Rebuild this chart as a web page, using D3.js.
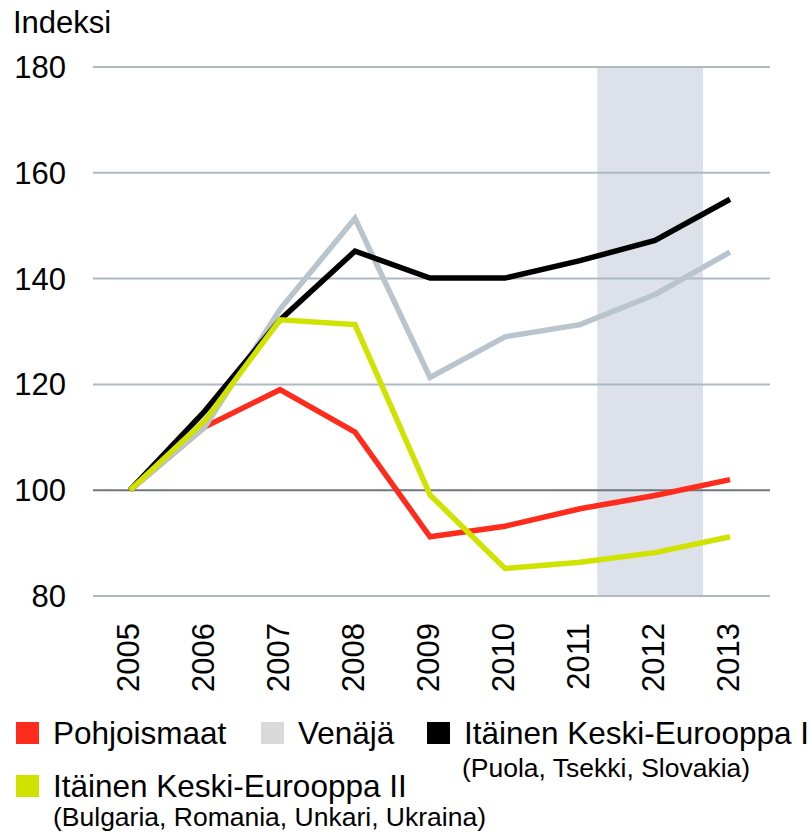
<!DOCTYPE html>
<html lang="fi">
<head>
<meta charset="UTF-8">
<title>Indeksi</title>
<script src="https://d3js.org/d3.v7.min.js"></script>
<style>
  body { margin: 0; background: #fff; }
  svg text { font-family: "Liberation Sans", Arial, sans-serif; fill: #000; }
</style>
</head>
<body>
<div id="chart"></div>
<script>
const years = [2005, 2006, 2007, 2008, 2009, 2010, 2011, 2012, 2013];
const yTicks = [80, 100, 120, 140, 160, 180];

const pohjoismaat = [100, 112, 119, 111, 91.2, 93.2, 96.5, 99, 102];
const venaja      = [100, 112, 134.2, 151.4, 121.3, 129, 131.3, 137, 145];
const ikeI        = [100, 115, 132.2, 145.2, 140.1, 140.1, 143.4, 147.2, 155];
const ikeII       = [100, 113.2, 132.2, 131.3, 99.1, 85.2, 86.4, 88.2, 91.2];

// shaded period, in year units
const shade = [2011.23, 2012.64];

const series = [
  { name: "Pohjoismaat", values: pohjoismaat, color: "#ff2b1c", swatch: "#ff2b1c" },
  { name: "Venäjä", values: venaja, color: "#b9c4cc", swatch: "#d9d9d9" },
  { name: "Itäinen Keski-Eurooppa I", values: ikeI, color: "#000000", swatch: "#000000" },
  { name: "Itäinen Keski-Eurooppa II", values: ikeII, color: "#cfe200", swatch: "#cfe200" }
];

const width = 810, height = 833;
const svg = d3.select("#chart").append("svg")
  .attr("width", width).attr("height", height);

const x = d3.scaleLinear().domain([2005, 2013]).range([130, 730]);
const y = d3.scaleLinear().domain([80, 180]).range([596, 67]);
const gridLeft = 93, gridRight = 770;

// shaded band
svg.append("rect")
  .attr("x", x(shade[0]))
  .attr("y", y(180))
  .attr("width", x(shade[1]) - x(shade[0]))
  .attr("height", y(80) - y(180))
  .attr("fill", "#dde2ea");

// gridlines
svg.selectAll(".grid").data(yTicks).enter().append("line")
  .attr("x1", gridLeft).attr("x2", gridRight)
  .attr("y1", d => y(d)).attr("y2", d => y(d))
  .attr("stroke", d => d === 100 ? "#6d767e" : "#aeb9c4")
  .attr("stroke-width", 2);

// y tick labels
svg.selectAll(".ylab").data(yTicks).enter().append("text")
  .attr("x", 66).attr("y", d => y(d) + 11)
  .attr("text-anchor", "end")
  .attr("font-size", 31)
  .text(d => d);

svg.append("text")
  .attr("x", 13).attr("y", 33)
  .attr("font-size", 31)
  .text("Indeksi");

// x tick labels, rotated
svg.selectAll(".xlab").data(years).enter().append("text")
  .attr("transform", d => `translate(${x(d) + 9},623) rotate(-90)`)
  .attr("text-anchor", "end")
  .attr("font-size", 31)
  .text(d => d);

// lines
const line = d3.line()
  .x((d, i) => x(years[i]))
  .y(d => y(d));

svg.selectAll(".series").data(series).enter().append("path")
  .attr("d", d => line(d.values))
  .attr("fill", "none")
  .attr("stroke", d => d.color)
  .attr("stroke-width", 5.5)
  .attr("stroke-linejoin", "miter");

// legend
const legend = [
  { s: series[0], x: 16, y: 722 },
  { s: series[1], x: 261, y: 722 },
  { s: series[2], x: 427, y: 722 },
  { s: series[3], x: 16, y: 775 }
];

legend.forEach(l => {
  svg.append("rect")
    .attr("x", l.x).attr("y", l.y)
    .attr("width", 23).attr("height", 22)
    .attr("fill", l.s.swatch);
  svg.append("text")
    .attr("x", l.x + 37).attr("y", l.y + 22)
    .attr("font-size", 31.5)
    .text(l.s.name);
});

svg.append("text")
  .attr("x", 462).attr("y", 777)
  .attr("font-size", 26.5)
  .text("(Puola, Tsekki, Slovakia)");
svg.append("text")
  .attr("x", 53).attr("y", 826)
  .attr("font-size", 26.5)
  .text("(Bulgaria, Romania, Unkari, Ukraina)");
</script>
</body>
</html>
